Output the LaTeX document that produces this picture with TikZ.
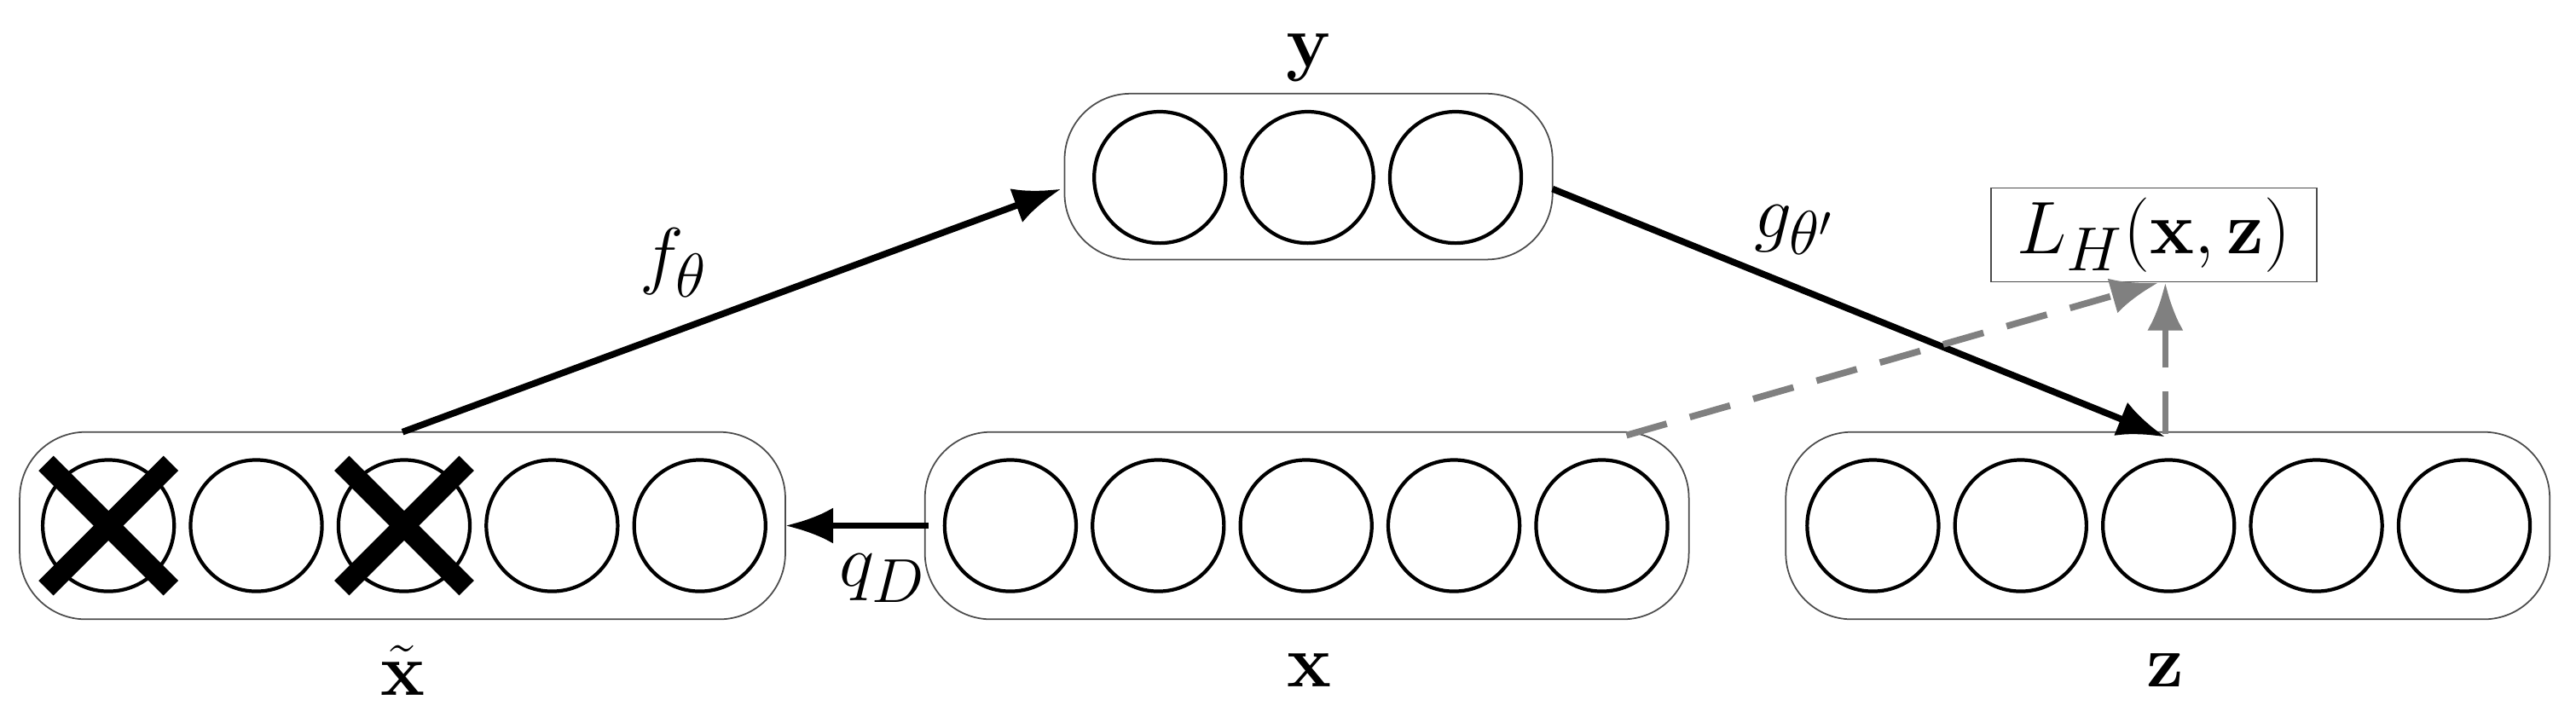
\documentclass[tikz,border=0pt]{standalone}
\usepackage{amsmath}
\begin{document}
\begin{tikzpicture}[x=0.01927cm,y=-0.01927cm,
  box/.style={draw=black!70,line width=0.5pt,rounded corners=22pt},
  neu/.style={draw,circle,line width=1.2pt,minimum size=80*0.01927cm,inner sep=0pt},
  arr/.style={line width=2.2pt,-{Latex[length=16pt,width=12pt]}},
  garr/.style={line width=2.2pt,draw=black!50,dash pattern=on 14pt off 8pt,-{Latex[length=16pt,width=12pt]}},
  lab/.style={font=\fontsize{30}{36}\selectfont},
  cross/.style={line width=7pt}]
\useasboundingbox (0,0) rectangle (1568,440);
\usetikzlibrary{arrows.meta}
% boxes
\draw[box] (12,263) rectangle (478,377);
\draw[box] (563,263) rectangle (1028,377);
\draw[box] (1087,263) rectangle (1552,377);
\draw[box] (648,57) rectangle (945,158);
% neurons
\foreach \i/\x in {1/66,2/156,3/246,4/336,5/426}{\node[neu] (xt\i) at (\x,320) {};}
\foreach \i/\x in {1/615,2/705,3/795,4/885,5/975}{\node[neu] (x\i) at (\x,320) {};}
\foreach \i/\x in {1/1140,2/1230,3/1320,4/1410,5/1500}{\node[neu] (z\i) at (\x,320) {};}
\foreach \i/\x in {1/706,2/796,3/886}{\node[neu] (y\i) at (\x,108) {};}
% crosses
\foreach \c in {66,246}{
 \draw[cross] (\c-38,282) -- (\c+38,358);
 \draw[cross] (\c+38,282) -- (\c-38,358);}
% loss box
\node[draw=black!70,line width=0.5pt,minimum width=198*0.01927cm,minimum height=57*0.01927cm,inner sep=0pt,lab] (L) at (1311,143) {$L_H(\mathbf{x},\mathbf{z})$};
% labels
\node[lab] (ly) at (797,35) {$\mathbf{y}$};
\node[lab] (lxt) at (245,408) {$\tilde{\mathbf{x}}$};
\node[lab] (lx) at (797,408) {$\mathbf{x}$};
\node[lab] (lz) at (1318,408) {$\mathbf{z}$};
\node[lab] (lf) at (410,160) {$f_\theta$};
\node[lab] (lg) at (1092,140) {$g_{\theta'}$};
\node[lab] (lq) at (537,352) {$q_D$};
% connectors
\coordinate (a1) at (245,263); \coordinate (a2) at (646,115);
\coordinate (b1) at (945,115); \coordinate (b2) at (1318,266);
\coordinate (c1) at (565,320); \coordinate (c2) at (478,320);
\coordinate (d1) at (990,265); \coordinate (d2) at (1314,172);
\coordinate (e1) at (1318,264); \coordinate (e2) at (1318,172);
\draw[arr] (a1) -- (a2);
\draw[arr] (b1) -- (b2);
\draw[arr] (c1) -- (c2);
\draw[garr] (d1) -- (d2);
\draw[garr] (e1) -- (e2);
\end{tikzpicture}
\end{document}
